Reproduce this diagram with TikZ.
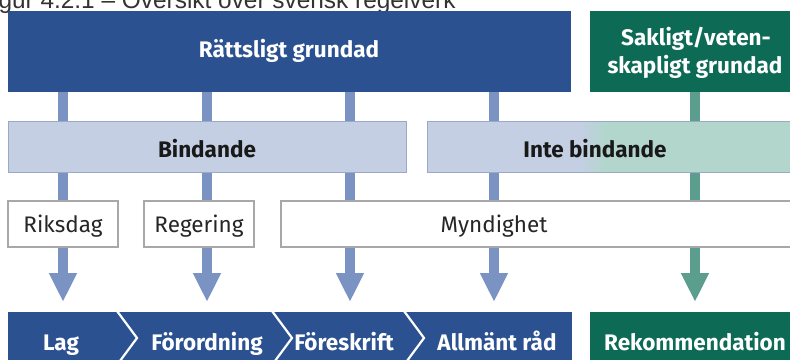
\documentclass[tikz,border=0pt]{standalone}
\usepackage{fontspec}
\setmainfont{Fira Sans}
\newfontfamily\titlefont{Liberation Sans}
\usetikzlibrary{arrows.meta,calc}
\definecolor{dkblue}{HTML}{2B5191}
\definecolor{dkgreen}{HTML}{0D6A55}
\definecolor{ltblue}{HTML}{C4CFE3}
\definecolor{ltteal}{HTML}{B2D6CC}
\definecolor{connb}{HTML}{7B93C2}
\definecolor{conng}{HTML}{5B9E8D}
\definecolor{boxline}{HTML}{A8A8A8}
\definecolor{bandline}{HTML}{9AA9C8}
\definecolor{titlegray}{HTML}{333333}
\tikzset{
  lbl/.style={font=\fontsize{22.5}{26}\selectfont\bfseries, text=white, anchor=base, inner sep=0pt},
  blbl/.style={font=\fontsize{22.5}{26}\selectfont\bfseries, text=black!90, anchor=base, inner sep=0pt},
  rlbl/.style={font=\fontsize{22.5}{26}\selectfont, text=black!85, anchor=base, inner sep=0pt},
  blk/.style={anchor=north west, inner sep=0pt, outer sep=0pt},
  wbox/.style={blk, draw=boxline, line width=1.2pt, fill=white},
  conn/.style={line width=10pt, -{Triangle[width=0pt 2.6, length=0pt 2.9]}},
  chev/.style={draw=white, line width=2.2pt},
}
\begin{document}
\begin{tikzpicture}[x=1pt,y=-1pt]
\useasboundingbox (0,0) rectangle (790,359);
\begin{scope}
\clip (0,0) rectangle (790,359);
% title (cut off at the top edge, as in the reference)
\node[font=\titlefont\fontsize{24.4}{28}\selectfont, text=titlegray, anchor=base west, inner sep=0pt] (title) at (-22,8) {Figur 4.2.1 – Översikt över svensk regelverk};
% top boxes
\node[blk, fill=dkblue, minimum width=563, minimum height=81] (rg) at (8,11) {};
\node[blk, fill=dkgreen, minimum width=205, minimum height=81] (sg) at (590,11) {};
% column coordinates
\coordinate (c1) at (63,0);
\coordinate (c2) at (207,0);
\coordinate (c3) at (350,0);
\coordinate (c4) at (494,0);
\coordinate (c5) at (695,0);
\coordinate (tipy) at (0,302);
% connectors (behind)
\foreach \c in {c1,c2,c3,c4}{
  \draw[conn, connb] (\c |- rg.south) -- (\c |- tipy);
}
\draw[conn, conng] (c5 |- sg.south) -- (c5 |- tipy);
% bands
\node[blk, fill=ltblue, draw=bandline, line width=0.8pt, minimum width=398, minimum height=51] (bind) at (8,121) {};
\fill[ltblue] (427,121) rectangle (580,172);
\shade[left color=ltblue, right color=ltteal] (580,121) rectangle (606,172);
\fill[ltteal] (605.5,121) rectangle (800,172);
\node[blk, draw=bandline, line width=0.8pt, minimum width=370, minimum height=51] (inte) at (427,121) {};
% actor boxes
\node[wbox, minimum width=110, minimum height=46] (riks) at (8,201) {};
\node[wbox, minimum width=110, minimum height=46] (reg) at (144,201) {};
\node[wbox, minimum width=520, minimum height=46] (mynd) at (281,201) {};
% bottom bands
\node[blk, fill=dkblue, minimum width=564, minimum height=60] (bb) at (8,312) {};
\node[blk, fill=dkgreen, minimum width=205, minimum height=60] (gb) at (590,312) {};
\draw[chev] (117,311) -- (137,338) -- (117,365);
\draw[chev] (272,311) -- (292,338) -- (272,365);
\draw[chev] (404,311) -- (424,338) -- (404,365);
% labels
\node[lbl] (t-rg) at (289,57) {Rättsligt grundad};
\node[lbl] (t-sg1) at (696,45) {Sakligt/veten-};
\node[lbl] (t-sg2) at (695,73) {skapligt grundad};
\node[blbl] (t-bind) at (207,157) {Bindande};
\node[blbl] (t-inte) at (595,157) {Inte bindande};
\node[rlbl] (t-riks) at (63,232) {Riksdag};
\node[rlbl] (t-reg) at (199,232) {Regering};
\node[rlbl] (t-mynd) at (494,232) {Myndighet};
\node[lbl] (t-lag) at (61,350) {Lag};
\node[lbl] (t-for) at (207,350) {Förordning};
\node[lbl] (t-fore) at (344,350) {Föreskrift};
\node[lbl] (t-allm) at (497,350) {Allmänt råd};
\node[lbl] (t-rek) at (695,350) {Rekommendation};
\end{scope}
\end{tikzpicture}
\end{document}
